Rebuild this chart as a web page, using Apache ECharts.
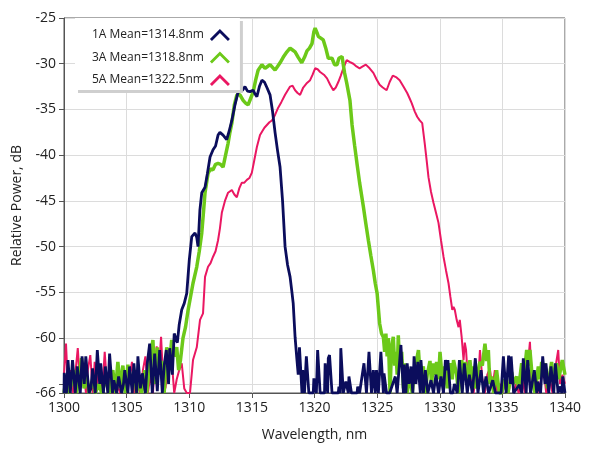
<!DOCTYPE html>
<html>
<head>
<meta charset="utf-8">
<script src="https://cdn.jsdelivr.net/npm/echarts@6/dist/echarts.min.js"></script>
<style>
  html, body { margin: 0; padding: 0; background: #fff; }
  #chart { width: 589px; height: 456px; }
</style>
</head>
<body>
<div id="chart"></div>
<script>
// spectra: [wavelength nm, relative power dB]
var spec1A = [
  [1300.0,-66],[1300.02,-63.8],[1300.12,-63.8],[1300.2,-66],[1300.32,-62.4],[1300.42,-62.4],[1300.5,-66],[1300.68,-62.4],
  [1300.8,-62.4],[1300.9,-66],[1301.06,-63.1],[1301.16,-63.1],[1301.3,-66],[1301.44,-62.0],[1301.54,-62.0],[1301.62,-65],
  [1301.74,-62.0],[1301.86,-62.0],[1302.0,-66],[1302.15,-65.5],[1302.28,-63.3],[1302.38,-63.3],[1302.5,-66],[1302.66,-61.3],
  [1302.76,-61.3],[1302.85,-65],[1302.93,-62.75],[1303.03,-62.75],[1303.15,-66],[1303.3,-63.1],[1303.4,-63.1],[1303.5,-66],
  [1303.64,-61.7],[1303.76,-61.7],[1303.87,-66],[1303.98,-64.6],[1304.08,-64.6],[1304.2,-66],[1304.36,-64.2],[1304.46,-64.2],
  [1304.6,-66],[1304.75,-65],[1304.85,-63.5],[1304.97,-63.5],[1305.1,-66],[1305.24,-63.1],[1305.34,-63.1],[1305.45,-66],
  [1305.58,-62.75],[1305.68,-62.75],[1305.8,-66],[1305.9,-62.0],[1306.0,-62.0],[1306.1,-65.5],[1306.26,-63.85],[1306.36,-63.85],
  [1306.5,-66],[1306.65,-62.75],[1306.75,-62.75],[1306.84,-60.6],[1306.94,-60.6],[1307.05,-66],[1307.24,-61.7],[1307.34,-61.7],
  [1307.45,-65.8],[1307.64,-61.3],[1307.74,-61.3],[1307.85,-66],[1308.0,-63],[1308.17,-61.3],[1308.27,-61.3],[1308.35,-65],
  [1308.44,-61.1],[1308.54,-61.1],[1308.65,-64],[1308.8,-59.5],[1308.9,-59.5],[1309.05,-60.5],[1309.2,-58.5],[1309.4,-56.9],
  [1309.6,-56.2],[1309.8,-55.1],[1310.0,-51.5],[1310.2,-48.9],[1310.46,-48.5],[1310.6,-49.0],[1310.7,-50.0],[1310.85,-46],
  [1311.0,-44.1],[1311.26,-43.5],[1311.45,-42],[1311.66,-40.2],[1311.9,-39.4],[1312.1,-39.0],[1312.3,-37.8],[1312.45,-37.5],
  [1312.7,-37.8],[1312.99,-38.3],[1313.2,-37.3],[1313.4,-36.2],[1313.65,-34.5],[1313.9,-33.1],[1314.05,-33.05],[1314.25,-32.9],
  [1314.45,-32.5],[1314.65,-33.0],[1314.85,-33.05],[1315.1,-32.9],[1315.25,-33.3],[1315.4,-33.6],[1315.6,-32.5],[1315.8,-31.8],
  [1316.0,-32.0],[1316.2,-32.6],[1316.45,-33.4],[1316.65,-35.2],[1316.85,-37.5],[1317.05,-39.5],[1317.25,-41.3],[1317.45,-45],
  [1317.65,-50.0],[1317.85,-52],[1318.05,-53.3],[1318.2,-55],[1318.3,-56.2],[1318.45,-59.9],[1318.6,-62.4],[1318.7,-64],
  [1318.8,-61.0],[1318.9,-61.0],[1319.0,-66],[1319.06,-63.5],[1319.14,-63.5],[1319.2,-66],[1319.35,-62.0],[1319.45,-62.0],
  [1319.55,-66],[1319.9,-66],[1319.95,-64.4],[1320.05,-64.4],[1320.15,-66],[1320.25,-61.3],[1320.35,-61.3],[1320.45,-66],
  [1320.8,-66],[1320.85,-62.75],[1320.95,-62.75],[1321.05,-66],[1321.1,-62.2],[1321.2,-61.85],[1321.3,-61.85],[1321.4,-66],
  [1321.9,-66],[1321.95,-65.3],[1322.05,-66],[1322.1,-61.1],[1322.2,-61.1],[1322.3,-66],[1322.5,-64.75],[1322.6,-64.75],
  [1322.7,-66],[1322.75,-64.2],[1322.85,-64.2],[1322.95,-66],[1323.4,-66],[1323.45,-65.3],[1323.55,-65.3],[1323.6,-66],
  [1323.95,-62.75],[1324.05,-62.75],[1324.15,-66],[1324.35,-61.5],[1324.45,-61.5],[1324.55,-66],[1324.7,-63.5],[1324.8,-63.5],
  [1324.85,-66],[1324.95,-63.5],[1325.05,-63.5],[1325.1,-66],[1325.3,-61.5],[1325.4,-61.5],[1325.5,-66],[1325.55,-63.85],
  [1325.65,-63.85],[1325.75,-66],[1326.0,-66],[1326.45,-64.2],[1326.55,-64.2],[1326.6,-66],[1326.9,-60.75],[1327.0,-60.75],
  [1327.1,-66],[1327.15,-62.9],[1327.25,-62.9],[1327.3,-66],[1327.4,-62.75],[1327.5,-62.75],[1327.55,-65],[1327.7,-63.1],
  [1327.8,-63.1],[1327.85,-66],[1327.95,-62.0],[1328.05,-62.0],[1328.1,-65],[1328.25,-62.6],[1328.35,-62.6],[1328.45,-66],
  [1328.5,-62.4],[1328.6,-62.4],[1328.7,-66],[1328.85,-63.5],[1328.95,-63.5],[1329.05,-66],[1329.3,-64.6],[1329.4,-64.6],
  [1329.5,-66],[1329.7,-64.0],[1329.8,-64.0],[1329.9,-66],[1330.1,-64.2],[1330.2,-64.2],[1330.3,-66],[1330.45,-62.4],
  [1330.55,-62.4],[1330.6,-63.5],[1330.65,-62.4],[1330.75,-62.4],[1330.85,-66],[1331.05,-66],[1331.17,-65.0],[1331.27,-65.0],
  [1331.4,-66],[1331.57,-62.4],[1331.67,-62.4],[1331.8,-66],[1331.96,-62.75],[1332.06,-62.75],[1332.2,-66],[1332.36,-64.0],
  [1332.46,-64.0],[1332.6,-66],[1332.84,-62.2],[1332.94,-62.2],[1333.05,-66],[1333.3,-63.5],[1333.4,-63.5],[1333.5,-66],
  [1333.69,-64.2],[1333.79,-64.2],[1333.9,-66],[1334.23,-64.6],[1334.33,-64.6],[1334.45,-66],[1334.9,-66],[1335.08,-62.0],
  [1335.18,-62.0],[1335.3,-66],[1335.45,-66],[1335.5,-61.9],[1335.6,-61.9],[1335.65,-65],[1335.7,-62.0],[1335.8,-62.0],
  [1335.9,-66],[1336.36,-65.1],[1336.46,-65.1],[1336.55,-66],[1336.67,-62.2],[1336.77,-62.2],[1336.9,-66],[1337.02,-62.4],
  [1337.12,-62.4],[1337.25,-66],[1337.55,-63.5],[1337.65,-63.5],[1337.75,-66],[1337.82,-64.75],[1337.92,-64.75],[1338.05,-66],
  [1338.22,-62.0],[1338.32,-62.0],[1338.4,-65],[1338.48,-62.75],[1338.58,-62.75],[1338.7,-66],[1338.88,-63.1],[1338.98,-63.1],
  [1339.1,-66],[1339.23,-62.75],[1339.33,-62.75],[1339.45,-66],[1339.55,-65.3],[1339.65,-65.3],[1339.75,-66],[1339.82,-64.2],
  [1339.92,-64.2],[1340.0,-66]
];

var spec3A = [
  [1300.0,-66],[1300.2,-64],[1300.4,-66],[1300.6,-65],[1300.8,-63.5],[1301.0,-66],[1301.2,-64],[1301.4,-62.2],
  [1301.6,-65.5],[1301.8,-64],[1302.0,-66],[1302.3,-64.5],[1302.5,-66],[1302.8,-65],[1303.0,-66],[1303.3,-64.5],
  [1303.6,-66],[1303.9,-63.5],[1304.1,-66],[1304.3,-62.6],[1304.5,-65.5],[1304.7,-63],[1304.9,-66],[1305.1,-62.9],
  [1305.3,-65],[1305.6,-63.5],[1305.8,-66],[1306.0,-64.5],[1306.2,-66],[1306.45,-63.5],[1306.6,-66],[1306.9,-62],
  [1307.1,-60.2],[1307.25,-65],[1307.45,-61],[1307.6,-64],[1307.8,-62.5],[1308.0,-66],[1308.2,-61],[1308.4,-63],
  [1308.6,-60.2],[1308.8,-62],[1309.0,-61],[1309.15,-63.5],[1309.3,-62.4],[1309.5,-60],[1309.7,-58.8],[1309.9,-57],
  [1310.06,-55.8],[1310.3,-54],[1310.6,-52.2],[1310.8,-50.5],[1311.0,-48.5],[1311.15,-46],[1311.26,-44.1],[1311.5,-42.0],
  [1311.7,-41.5],[1311.9,-41.6],[1312.1,-41.0],[1312.3,-40.9],[1312.5,-41.0],[1312.7,-41.3],[1312.9,-40],[1313.1,-38.7],
  [1313.25,-37.5],[1313.4,-36.5],[1313.6,-34.5],[1313.8,-33.4],[1314.05,-33.4],[1314.3,-34.0],[1314.5,-34.3],[1314.7,-34.5],
  [1314.9,-33.8],[1315.1,-33.1],[1315.3,-31.8],[1315.5,-30.7],[1315.8,-30.1],[1316.05,-30.5],[1316.25,-30.3],[1316.45,-30.1],
  [1316.65,-30.4],[1316.85,-30.7],[1317.05,-30.3],[1317.25,-29.9],[1317.5,-29.3],[1317.8,-28.7],[1318.05,-28.3],[1318.25,-28.5],
  [1318.45,-28.7],[1318.7,-29.3],[1318.98,-29.9],[1319.2,-29.3],[1319.4,-28.6],[1319.6,-28.3],[1319.8,-27.8],[1319.95,-26.5],
  [1320.05,-26.1],[1320.2,-26.6],[1320.3,-27.0],[1320.5,-27.2],[1320.7,-27.4],[1320.9,-28.3],[1321.1,-29.4],[1321.25,-29.6],
  [1321.4,-29.4],[1321.6,-30.1],[1321.8,-30.1],[1321.95,-29.4],[1322.2,-29.2],[1322.4,-31],[1322.57,-32.1],[1322.83,-34],
  [1323.0,-36.7],[1323.2,-38.9],[1323.4,-41],[1323.6,-43.0],[1323.9,-45.6],[1324.1,-47.5],[1324.3,-49.3],[1324.5,-51],
  [1324.7,-52.6],[1324.85,-54],[1325.0,-55.1],[1325.2,-58.4],[1325.35,-59.5],[1325.5,-59.9],[1325.6,-61.5],[1325.7,-59.5],
  [1325.8,-62],[1325.9,-60],[1326.03,-66],[1326.15,-61],[1326.29,-59.85],[1326.4,-63],[1326.5,-61.5],[1326.6,-64],
  [1326.69,-59.7],[1326.8,-63],[1326.96,-61.5],[1327.1,-65.5],[1327.22,-62.75],[1327.4,-66],[1327.6,-64],[1327.8,-66],
  [1328.0,-63.5],[1328.3,-61.3],[1328.45,-64.5],[1328.69,-63.1],[1328.85,-66],[1329.0,-64],[1329.22,-62.5],[1329.35,-65],
  [1329.49,-62.75],[1329.6,-64],[1329.75,-62.6],[1329.9,-64.5],[1330.02,-61.5],[1330.2,-64.5],[1330.42,-63.1],[1330.6,-65.5],
  [1330.82,-62.75],[1331.0,-64.5],[1331.1,-62.4],[1331.35,-64],[1331.5,-66],[1331.75,-62.4],[1331.9,-64],[1332.05,-62.6],
  [1332.2,-65],[1332.41,-62.4],[1332.55,-64.5],[1332.68,-63.1],[1332.85,-65.5],[1333.0,-64],[1333.21,-62.6],[1333.4,-63],
  [1333.61,-60.6],[1333.75,-62.5],[1333.88,-61.3],[1334.0,-65],[1334.14,-64.2],[1334.3,-66],[1334.54,-63.5],[1334.75,-66],
  [1334.94,-66],[1335.2,-64.5],[1335.45,-66],[1335.74,-63.7],[1335.9,-65],[1336.14,-64.2],[1336.3,-65.5],[1336.54,-62.75],
  [1336.7,-64.5],[1336.94,-61.3],[1337.05,-63],[1337.2,-61.3],[1337.4,-64.5],[1337.6,-66],[1337.87,-63.1],[1338.0,-64.5],
  [1338.14,-62.6],[1338.27,-64],[1338.4,-62.75],[1338.6,-65.5],[1338.93,-62.6],[1339.1,-65],[1339.33,-62.75],[1339.5,-64.5],
  [1339.78,-62.4],[1340.0,-64]
];

var spec5A = [
  [1300.0,-64],[1300.16,-60.6],[1300.3,-65],[1300.5,-63.5],[1300.7,-66],[1300.9,-64],[1301.1,-61.1],[1301.3,-65.5],
  [1301.55,-63],[1301.75,-66],[1301.9,-63.5],[1302.1,-61.85],[1302.3,-66],[1302.45,-62.6],[1302.65,-65],[1302.85,-63],
  [1303.05,-66],[1303.25,-61.5],[1303.45,-65.5],[1303.7,-64],[1303.9,-66],[1304.2,-65],[1304.5,-66],[1304.8,-64.5],
  [1305.05,-66],[1305.25,-64],[1305.43,-62.6],[1305.6,-66],[1305.85,-64.5],[1306.1,-66],[1306.3,-63.5],[1306.5,-62.0],
  [1306.7,-66],[1306.9,-64],[1307.1,-66],[1307.25,-63],[1307.4,-60.9],[1307.55,-64],[1307.75,-59.85],[1307.9,-64],
  [1308.1,-65.5],[1308.3,-63],[1308.6,-62.4],[1308.8,-66],[1309.0,-64.5],[1309.2,-63.5],[1309.4,-62.75],[1309.6,-65.5],
  [1309.8,-66],[1310.06,-66],[1310.3,-62.4],[1310.6,-61],[1310.86,-58],[1311.1,-57.3],[1311.26,-53.3],[1311.5,-52.2],
  [1311.7,-51.8],[1311.9,-51.1],[1312.1,-50.5],[1312.3,-49.3],[1312.45,-48],[1312.6,-46.3],[1312.85,-45],[1313.1,-44.1],
  [1313.4,-43.8],[1313.6,-44.3],[1313.8,-44.6],[1314.0,-43.6],[1314.2,-43.0],[1314.4,-43.0],[1314.6,-42.7],[1314.8,-42.5],
  [1315.0,-41.9],[1315.2,-40.5],[1315.4,-39.1],[1315.65,-37.8],[1315.8,-37.6],[1316.0,-37.0],[1316.2,-36.7],[1316.4,-36.4],
  [1316.6,-36.2],[1316.85,-35.6],[1317.1,-34.8],[1317.35,-34.2],[1317.65,-33.4],[1318.05,-32.5],[1318.25,-32.4],[1318.45,-32.9],
  [1318.65,-33.2],[1318.85,-33.4],[1319.1,-32.6],[1319.4,-32.1],[1319.65,-31.8],[1319.85,-31.2],[1320.05,-30.5],[1320.25,-30.6],
  [1320.45,-30.9],[1320.75,-31.2],[1321.0,-31.6],[1321.25,-32.3],[1321.5,-32.9],[1321.7,-32.6],[1321.9,-32.0],[1322.1,-31.3],
  [1322.3,-30.5],[1322.57,-29.6],[1322.8,-29.8],[1323.1,-30.0],[1323.35,-30.3],[1323.6,-30.5],[1323.85,-30.3],[1324.1,-30.1],
  [1324.4,-30.5],[1324.7,-31.0],[1324.95,-31.7],[1325.2,-32.3],[1325.45,-32.6],[1325.76,-32.9],[1326.0,-32.0],[1326.25,-31.3],
  [1326.55,-31.5],[1326.8,-31.8],[1327.1,-32.5],[1327.4,-33.2],[1327.6,-33.8],[1327.76,-34.3],[1328.0,-35.2],[1328.2,-35.8],
  [1328.4,-36.2],[1328.6,-36.5],[1328.8,-38.7],[1328.95,-40.5],[1329.1,-42.4],[1329.3,-44],[1329.5,-45.2],[1329.7,-46.3],
  [1329.9,-47.4],[1330.1,-49.3],[1330.3,-51.1],[1330.5,-52.6],[1330.7,-54.0],[1330.85,-55.5],[1331.0,-56.9],[1331.1,-56.6],
  [1331.2,-56.9],[1331.35,-58],[1331.5,-58.8],[1331.6,-58],[1331.75,-59.9],[1331.9,-62.4],[1332.0,-60.5],[1332.1,-61.3],
  [1332.2,-63.5],[1332.4,-62.8],[1332.55,-64.5],[1332.7,-66],[1332.9,-64],[1333.05,-65],[1333.21,-61.3],[1333.4,-64.5],
  [1333.6,-66],[1333.8,-64],[1334.0,-63.3],[1334.2,-65.5],[1334.4,-63.5],[1334.6,-66],[1334.8,-65],[1335.0,-66],
  [1335.3,-64.5],[1335.5,-66],[1335.74,-63.5],[1335.9,-66],[1336.1,-65],[1336.3,-66],[1336.6,-64.5],[1336.8,-66],
  [1337.0,-63.5],[1337.2,-60.4],[1337.35,-65],[1337.6,-64],[1337.8,-66],[1338.0,-65],[1338.3,-63.5],[1338.5,-66],
  [1338.8,-64.5],[1339.0,-66],[1339.2,-63.5],[1339.46,-61.3],[1339.6,-65],[1339.8,-64],[1340.0,-65]
];

var seriesNames = ["1A Mean=1314.8nm", "3A Mean=1318.8nm", "5A Mean=1322.5nm"];
var seriesColors = ["#0b0d5c", "#6cc919", "#ea1762"];
var yLabelValues = [-66, -60, -55, -50, -45, -40, -35, -30, -25];
var yTickValues = [-66, -65, -60, -55, -50, -45, -40, -35, -30, -25];

var chevron = "path://M0,10 L10,0 L20,10 L18,12 L10,4 L2,12 Z";
var font = "'Open Sans', 'Noto Sans', sans-serif";

var myChart = echarts.init(document.getElementById("chart"));

var option = {
  animation: false,
  grid: {
    left: 64,
    right: 24,
    top: 18,
    bottom: 63,
    show: true,
    borderColor: "#555",
    borderWidth: 1,
  },
  legend: {
    orient: "vertical",
    left: 75,
    top: 18,
    align: "right",
    padding: [11, 10, 4, 17],
    itemGap: 10.5,
    itemWidth: 22,
    itemHeight: 12,
    backgroundColor: "#fff",
    shadowColor: "#cfcfcf",
    shadowBlur: 0,
    shadowOffsetX: 3,
    shadowOffsetY: 3,
    textStyle: { fontFamily: font, fontSize: 12, color: "#222", width: 115 },
    data: [
      { name: seriesNames[0], icon: chevron },
      { name: seriesNames[1], icon: chevron },
      { name: seriesNames[2], icon: chevron },
    ],
  },
  xAxis: {
    type: "value",
    min: 1300,
    max: 1340,
    interval: 5,
    name: "Wavelength, nm",
    nameLocation: "middle",
    nameGap: 35,
    nameTextStyle: { fontFamily: font, fontSize: 14, color: "#222" },
    axisLine: { show: true, lineStyle: { color: "#555" } },
    axisTick: { show: true, length: 5, lineStyle: { color: "#555" } },
    axisLabel: {
      fontFamily: font, fontSize: 14, color: "#222", margin: 8,
      formatter: function (v) { return String(v); },
    },
    splitLine: { show: true, lineStyle: { color: "#dcdcdc" } },
  },
  yAxis: {
    type: "value",
    min: -66,
    max: -25,
    name: "Relative Power, dB",
    nameLocation: "middle",
    nameGap: 40,
    nameTextStyle: { fontFamily: font, fontSize: 14, color: "#222" },
    axisLine: { show: true, lineStyle: { color: "#555" } },
    axisTick: { show: true, length: 5, customValues: yTickValues, lineStyle: { color: "#555" } },
    axisLabel: { fontFamily: font, fontSize: 14, color: "#222", margin: 8, customValues: yLabelValues },
    splitLine: { show: true, lineStyle: { color: "#dcdcdc" } },
  },
  series: [
    {
      name: seriesNames[2],
      type: "line",
      data: spec5A,
      showSymbol: false,
      color: seriesColors[2],
      lineStyle: { width: 2, color: seriesColors[2] },
    },
    {
      name: seriesNames[1],
      type: "line",
      data: spec3A,
      showSymbol: false,
      color: seriesColors[1],
      lineStyle: { width: 3.5, color: seriesColors[1] },
    },
    {
      name: seriesNames[0],
      type: "line",
      data: spec1A,
      showSymbol: false,
      color: seriesColors[0],
      lineStyle: { width: 2.8, color: seriesColors[0] },
    },
  ],
};

myChart.setOption(option);
</script>
</body>
</html>
